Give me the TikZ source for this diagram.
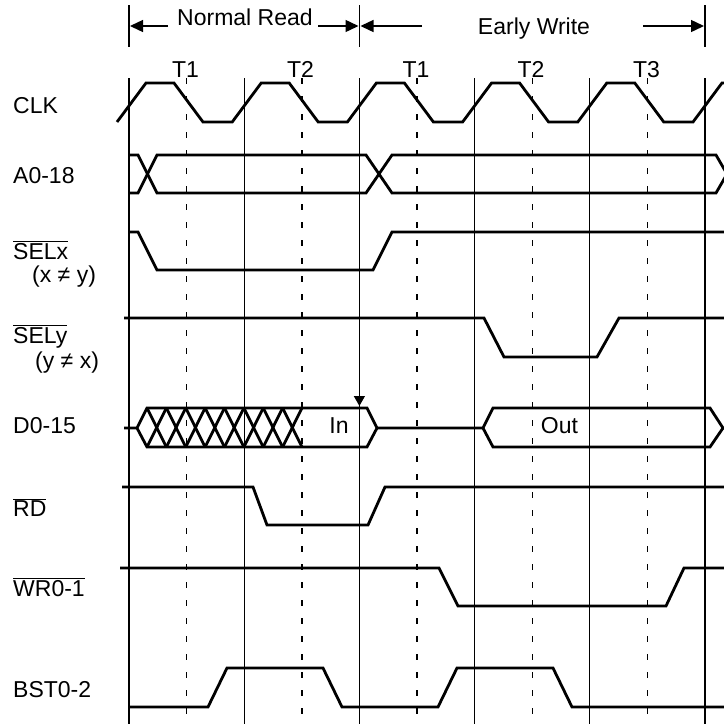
\documentclass[tikz,border=0pt]{standalone}
\usepackage{fontspec}
\setmainfont{Liberation Sans}
\usetikzlibrary{arrows.meta}
\newcommand\ovl[1]{$\overline{\mbox{#1}}$}
\begin{document}
\begin{tikzpicture}[x=1pt,y=-1pt,
  wave/.style={line width=2.8pt},
  gridl/.style={line width=1.2pt},
  gridd/.style={line width=1.4pt, dash pattern=on 6pt off 12pt},
  lbl/.style={anchor=base west, inner sep=0pt, font=\fontsize{23}{27}\selectfont},
  ctr/.style={anchor=base, inner sep=0pt, font=\fontsize{23}{27}\selectfont},
  harr/.style={line width=1.4pt, -{Triangle[length=13pt,width=12pt]}},
  darr/.style={line width=1.2pt, -{Triangle[length=10pt,width=11pt]}}
]
\useasboundingbox (0,0) rectangle (724,724);
\clip (0,0) rectangle (724,724);

% grid
\foreach \s in {129,244.2,359.4,474.6,589.8,705} {
  \draw[gridl] (\s,78) -- (\s,730);
}
\foreach \s in {186.6,301.8,417,532.2,647.4} {
  \draw[gridd] (\s,78) -- (\s,730);
}
% top markers
\draw[gridl] (129,5) -- (129,47);
\draw[gridl] (359.4,5) -- (359.4,47);
\draw[gridl] (705,5) -- (705,47);

% top labels and arrows
\node[lbl] (nr) at (177,25) {Normal Read};
\node[ctr] (ew) at (534,34) {Early Write};
\coordinate (nrL0) at (168,26); \coordinate (nrL1) at (130,26);
\coordinate (nrR0) at (318,26); \coordinate (nrR1) at (358.5,26);
\coordinate (ewL0) at (422,26); \coordinate (ewL1) at (360.5,26);
\coordinate (ewR0) at (643,26); \coordinate (ewR1) at (704,26);
\draw[harr] (nrL0) -- (nrL1);
\draw[harr] (nrR0) -- (nrR1);
\draw[harr] (ewL0) -- (ewL1);
\draw[harr] (ewR0) -- (ewR1);

% T labels
\node[ctr] (ta) at (185.5,77) {T1};
\node[ctr] (tb) at (300.5,77) {T2};
\node[ctr] (tc) at (416,77) {T1};
\node[ctr] (td) at (531,77) {T2};
\node[ctr] (te) at (646.5,77) {T3};

% signal labels
\node[lbl] (lclk) at (13,113) {CLK};
\node[lbl] (la) at (13,183) {A0-18};
\node[lbl] (lselx) at (13,259) {\ovl{SELx}};
\node[lbl] (lxy) at (32,282) {(x ≠ y)};
\node[lbl] (lsely) at (13,343) {\ovl{SELy}};
\node[lbl] (lyx) at (35,368) {(y ≠ x)};
\node[lbl] (ld) at (13,433) {D0-15};
\node[lbl] (lrd) at (13,516) {\ovl{RD}};
\node[lbl] (lwr) at (13,596) {\ovl{WR0-1}};
\node[lbl] (lbst) at (13,697) {BST0-2};

% CLK
\draw[wave] (117,122)
  foreach \s in {129,244.2,359.4,474.6,589.8,705} { -- (\s-12,122) -- (\s+17,83) -- (\s+45,83) -- (\s+74,122) };

% A0-18
\draw[wave] (129,155) -- (138,155) -- (157,193) -- (366,193) -- (392,155) -- (716,155) -- (727,174);
\draw[wave] (129,193) -- (138,193) -- (157,155) -- (366,155) -- (392,193) -- (716,193) -- (727,174);

% SELx
\draw[wave] (129,232) -- (138,232) -- (157,270) -- (373,270) -- (392,232) -- (730,232);

% SELy
\draw[wave] (124,318) -- (484,318) -- (504,357) -- (597,357) -- (619,318) -- (730,318);

% D0-15
\draw[wave] (124,428) -- (137,428) -- (147,408) -- (367,408) -- (377,428) -- (367,447) -- (147,447) -- (137,428);
\foreach \i in {0,...,7} {
  \draw[wave] (147+19.375*\i,408) -- (166.375+19.375*\i,447);
  \draw[wave] (147+19.375*\i,447) -- (166.375+19.375*\i,408);
}
\draw[wave] (377,428) -- (483,428) -- (493,408) -- (710,408) -- (723,428) -- (730,428);
\draw[wave] (483,428) -- (493,447) -- (710,447) -- (723,428);
\node[ctr] (tin) at (339,433) {In};
\node[ctr] (tout) at (559.5,433) {Out};
\coordinate (inA) at (359.4,380);
\coordinate (inB) at (359.4,406);
\draw[darr] (inA) -- (inB);

% RD
\draw[wave] (122,487) -- (253,487) -- (267,525) -- (368,525) -- (385,487) -- (730,487);

% WR0-1
\draw[wave] (120,568) -- (439,568) -- (458,606) -- (666,606) -- (684,568) -- (730,568);

% BST0-2
\draw[wave] (128,707) -- (208,707) -- (227,668) -- (323,668) -- (342,707) -- (438,707) -- (457,668) -- (553,668) -- (572,707) -- (730,707);
\end{tikzpicture}
\end{document}
